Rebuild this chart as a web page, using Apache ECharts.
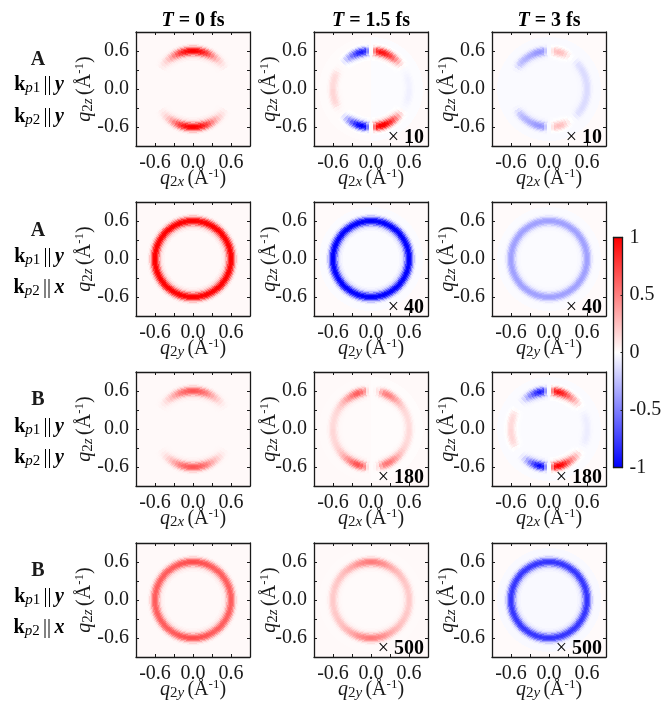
<!DOCTYPE html>
<html lang="en">
<head>
    <meta charset="UTF-8">
    <title>T-resolved maps</title>
    <script src="https://cdn.jsdelivr.net/npm/echarts@6/dist/echarts.min.js"></script>
    <style>
        html, body { margin: 0; padding: 0; background: #fff; }
        #main { width: 661px; height: 703px; filter: blur(0.45px); }
    </style>
</head>
<body>
<div id="main"></div>

<script type="text/javascript">
    // ring amplitude against angle from +q2z, 0..90 deg every 5 deg
    var angleStep = 5;
    var tickLabels = ['-0.6', '0.0', '0.6'];
    var colTitles = ['0', '1.5', '3'];
    var rowLetters = ['A', 'A', 'B', 'B'];
    var rowPump2 = ['y', 'x', 'y', 'x'];
    var rowAxes = ['x', 'y', 'x', 'y'];
    var factors = [['', '10', '10'], ['', '40', '40'], ['', '180', '180'], ['', '500', '500']];

    // radial shape of the ring
    var ringRadii = [0.46, 0.48, 0.50, 0.52, 0.54, 0.56, 0.58, 0.60, 0.62, 0.64, 0.66, 0.68, 0.70, 0.72];
    var ringProfile = [0.02, 0.05, 0.1, 0.24, 0.48, 0.75, 0.94, 1, 0.94, 0.75, 0.45, 0.2, 0.07, 0.01];

    var ayyT0 = [1, 0.98, 0.94, 0.86, 0.74, 0.62, 0.46, 0.33, 0.22, 0.14, 0.08, 0.04, 0, 0, 0, 0, 0, 0, 0];
    var ayyT15R = [0, 0.5, 0.85, 0.95, 0.92, 0.85, 0.75, 0.62, 0.46, 0.3, 0.14, 0.03, -0.01, -0.02, -0.03, -0.04, -0.04, -0.04, -0.04];
    var ayyT15L = [0, -0.5, -0.85, -0.92, -0.85, -0.72, -0.56, -0.4, -0.24, -0.1, 0, 0.01, 0.03, 0.09, 0.12, 0.13, 0.13, 0.13, 0.13];
    var ayyT3R = [0, 0.12, 0.25, 0.28, 0.25, 0.18, 0.09, 0.02, 0, -0.05, -0.1, -0.11, -0.12, -0.12, -0.12, -0.12, -0.12, -0.12, -0.12];
    var ayyT3L = [0, -0.2, -0.38, -0.4, -0.38, -0.35, -0.32, -0.3, -0.28, -0.25, -0.2, -0.1, -0.02, 0, 0, 0, 0, 0, 0];

    var axyT0 = [1, 1, 1, 1, 1, 1, 1, 1, 1, 1, 1, 1, 1, 1, 1, 1, 1, 1, 1];
    var axyT15 = [-1, -1, -1, -1, -1, -1, -1, -1, -1, -1, -1, -1, -1, -1, -1, -1, -1, -1, -1];
    var axyT3 = [-0.36, -0.36, -0.36, -0.36, -0.36, -0.36, -0.36, -0.36, -0.36, -0.36, -0.36, -0.36, -0.36, -0.36, -0.36, -0.36, -0.36, -0.36, -0.36];

    var byyT0 = [0.64, 0.63, 0.6, 0.55, 0.48, 0.4, 0.31, 0.23, 0.16, 0.1, 0.05, 0.02, 0, 0, 0, 0, 0, 0, 0];
    var byyT15R = [0, 0.02, 0.1, 0.3, 0.45, 0.5, 0.48, 0.42, 0.35, 0.28, 0.22, 0.18, 0.15, 0.14, 0.13, 0.13, 0.13, 0.13, 0.13];
    var byyT15L = [0, 0.1, 0.4, 0.55, 0.62, 0.6, 0.5, 0.42, 0.35, 0.28, 0.22, 0.18, 0.15, 0.14, 0.13, 0.13, 0.13, 0.13, 0.13];
    var byyT3R = [0, 0.5, 0.88, 0.95, 0.88, 0.78, 0.62, 0.48, 0.36, 0.24, 0.12, 0.03, 0, -0.02, -0.04, -0.05, -0.05, -0.05, -0.05];
    var byyT3L = [0, -0.4, -0.8, -0.88, -0.76, -0.62, -0.46, -0.3, -0.15, -0.05, 0, 0, 0.03, 0.1, 0.14, 0.16, 0.16, 0.16, 0.16];

    var bxyT0 = [0.68, 0.68, 0.67, 0.66, 0.65, 0.64, 0.63, 0.62, 0.62, 0.62, 0.62, 0.62, 0.62, 0.62, 0.62, 0.62, 0.62, 0.62, 0.62];
    var bxyT15 = [0.5, 0.49, 0.47, 0.44, 0.41, 0.37, 0.33, 0.3, 0.27, 0.25, 0.23, 0.22, 0.21, 0.2, 0.2, 0.19, 0.19, 0.19, 0.19];
    var bxyT3 = [-0.78, -0.78, -0.78, -0.78, -0.78, -0.78, -0.78, -0.78, -0.78, -0.78, -0.78, -0.78, -0.78, -0.78, -0.78, -0.78, -0.78, -0.78, -0.78];

    // per panel, row by row: right half, left half, gain of the lower half,
    // faint level inside the disc on the left and on the right, level outside it
    var panelRight = [ayyT0, ayyT15R, ayyT3R, axyT0, axyT15, axyT3, byyT0, byyT15R, byyT3R, bxyT0, bxyT15, bxyT3];
    var panelLeft = [ayyT0, ayyT15L, ayyT3L, axyT0, axyT15, axyT3, byyT0, byyT15L, byyT3L, bxyT0, bxyT15, bxyT3];
    var panelLowerGain = [1, 1.15, 1, 1, 1, 1, 1, 1.08, 1.1, 1, 1, 1];
    var discLeft = [0.025, 0.015, -0.02, 0.025, -0.015, -0.015, 0.025, 0.02, -0.015, 0.025, 0.02, -0.025];
    var discRight = [0.025, -0.01, -0.02, 0.025, -0.015, -0.015, 0.025, 0.01, -0.015, 0.025, 0.02, -0.025];
    var outerLevel = [0.025, 0.025, 0.02, 0.025, 0.02, 0.02, 0.025, 0.025, 0.02, 0.025, 0.025, 0.02];

    var colorbarRange = [-1, 1];
    var colorbarTicks = ['-1', '-0.5', '0', '0.5', '1'];
    var mapColors = ['#0000ff', '#ffffff', '#ff0000'];

    var gridLeft = [136, 314, 492];
    var gridTop = [32, 202, 372, 543];
    var panelSize = 114;
    var axisMin = -0.9, axisMax = 0.9;
    var cellCount = 114;
    var cellStep = (axisMax - axisMin) / cellCount;
    var discRadius = 0.82;
    var font = '"Liberation Serif", "Times New Roman", serif';
    var ink = '#1a1a1a';

    function lookup(table, i) {
        return i >= 0 && i < table.length ? table[i] : 0;
    }

    function panelValue(p, x, y) {
        var r = Math.sqrt(x * x + y * y);
        var angle = Math.atan2(Math.abs(x), Math.abs(y)) * 180 / Math.PI;
        var side = x >= 0 ? panelRight[p] : panelLeft[p];
        var amp = side[Math.round(angle / angleStep)] * (y < 0 ? panelLowerGain[p] : 1);
        var shape = lookup(ringProfile, Math.round((r - ringRadii[0]) / 0.02));
        var base = r > discRadius ? outerLevel[p] : (x >= 0 ? discRight[p] : discLeft[p]);
        return Math.max(-1, Math.min(1, base + amp * shape));
    }

    function panelCells(p) {
        var cells = [];
        for (var i = 0; i < cellCount; i++) {
            for (var j = 0; j < cellCount; j++) {
                var x = axisMin + (i + 0.5) * cellStep;
                var y = axisMin + (j + 0.5) * cellStep;
                cells.push([x, y, panelValue(p, x, y)]);
            }
        }
        return cells;
    }

    function renderCell(params, api) {
        var c = api.coord([api.value(0), api.value(1)]);
        var s = api.size([cellStep, cellStep]);
        return {
            type: 'rect',
            shape: {x: c[0] - s[0] / 2, y: c[1] - s[1] / 2, width: s[0], height: s[1]},
            style: {fill: api.visual('color')}
        };
    }

    var axisNameRich = {
        q: {fontFamily: font, fontStyle: 'italic', fontSize: 20, color: ink, height: 22},
        s: {fontFamily: font, fontSize: 15, color: ink, verticalAlign: 'bottom', padding: [8, 0, 0, 0]},
        si: {fontFamily: font, fontStyle: 'italic', fontSize: 15, color: ink, verticalAlign: 'bottom', padding: [8, 0, 0, 0]},
        n: {fontFamily: font, fontSize: 20, color: ink},
        u: {fontFamily: font, fontSize: 13, color: ink, verticalAlign: 'top', padding: [0, 0, 6, 0]}
    };

    function panelAxis(g, position, name) {
        var main = position === 'bottom' || position === 'left';
        var axis = {
            type: 'value',
            gridIndex: g,
            position: position,
            min: axisMin,
            max: axisMax,
            interval: 0.3,
            z: 5,
            axisLine: {show: true, onZero: false, lineStyle: {color: ink, width: 1.3}},
            axisTick: {show: true, inside: true, length: 3, lineStyle: {color: ink, width: 1}},
            splitLine: {show: false},
            axisLabel: {show: false}
        };
        if (main) {
            axis.axisLabel = {
                show: true,
                margin: 7,
                fontFamily: font,
                fontSize: 20,
                color: ink,
                formatter: function (v) {
                    var t = v.toFixed(1);
                    if (t === '-0.0') t = '0.0';
                    return tickLabels.indexOf(t) >= 0 ? t : '';
                }
            };
            axis.name = name;
            axis.nameLocation = 'middle';
            axis.nameMoveOverlap = false;
            axis.nameTextStyle = {rich: axisNameRich};
            axis.nameGap = position === 'bottom' ? 21 : 33;
            if (position === 'left') axis.nameRotate = 90;
        }
        return axis;
    }

    var grids = [], xAxes = [], yAxes = [], series = [], graphics = [];

    for (var row = 0; row < 4; row++) {
        for (var col = 0; col < 3; col++) {
            var g = grids.length;
            grids.push({left: gridLeft[col], top: gridTop[row], width: panelSize, height: panelSize, outerBoundsMode: 'none'});
            // axes 2g / 2g+1 in each list: the labelled one, then the mirror with ticks only
            xAxes.push(panelAxis(g, 'bottom', '{q|q}{s|2}{si|' + rowAxes[row] + '} {n|(Å}{u|-1}{n|)}'));
            xAxes.push(panelAxis(g, 'top'));
            var yAxis = panelAxis(g, 'left', '{q|q}{s|2}{si|z} {n|(Å}{u|-1}{n|)}');
            if (col === 0) yAxis.nameGap = 40;
            yAxes.push(yAxis);
            yAxes.push(panelAxis(g, 'right'));
            series.push({
                type: 'custom',
                xAxisIndex: 2 * g,
                yAxisIndex: 2 * g,
                coordinateSystem: 'cartesian2d',
                data: panelCells(g),
                encode: {x: 0, y: 1},
                renderItem: renderCell,
                clip: true,
                z: 1,
                silent: true,
                progressive: 0,
                animation: false
            });
            if (factors[row][col]) {
                graphics.push({
                    type: 'text',
                    x: gridLeft[col] + panelSize - 4,
                    y: gridTop[row] + panelSize - 8,
                    z: 10,
                    style: {
                        text: '{x|× }{b|' + factors[row][col] + '}',
                        textAlign: 'right',
                        textVerticalAlign: 'middle',
                        rich: {
                            x: {fontFamily: font, fontSize: 20, color: ink},
                            b: {fontFamily: font, fontSize: 20, fontWeight: 'bold', color: '#000'}
                        }
                    }
                });
            }
        }
    }

    // row labels
    var labelRich = {
        k: {fontFamily: font, fontSize: 20, fontWeight: 'bold', color: ink},
        p: {fontFamily: font, fontSize: 15, fontStyle: 'italic', color: ink, verticalAlign: 'bottom', padding: [7, 0, 0, 0]},
        d: {fontFamily: font, fontSize: 15, color: ink, verticalAlign: 'bottom', padding: [7, 0, 0, 0]},
        b: {fontFamily: font, fontSize: 20, color: '#555'},
        y: {fontFamily: font, fontSize: 20, fontWeight: 'bold', fontStyle: 'italic', color: ink}
    };
    var labelY = [[60, 85, 117], [231, 257, 288], [400, 427, 458], [571, 597, 628]];
    for (var r = 0; r < 4; r++) {
        graphics.push({type: 'text', x: 38, y: labelY[r][0], style: {
            text: rowLetters[r], textAlign: 'center', textVerticalAlign: 'middle',
            font: 'bold 20px ' + font, fill: ink
        }});
        graphics.push({type: 'text', x: 39, y: labelY[r][1], style: {
            text: '{k|k}{p|p}{d|1} {b|||} {y|y}', rich: labelRich,
            textAlign: 'center', textVerticalAlign: 'middle'
        }});
        graphics.push({type: 'text', x: 39, y: labelY[r][2], style: {
            text: '{k|k}{p|p}{d|2} {b|||} {y|' + rowPump2[r] + '}', rich: labelRich,
            textAlign: 'center', textVerticalAlign: 'middle'
        }});
    }

    // column titles
    for (var c = 0; c < 3; c++) {
        graphics.push({type: 'text', x: gridLeft[c] + panelSize / 2, y: 21, style: {
            text: '{t|T}{r| = ' + colTitles[c] + ' fs}',
            textAlign: 'center', textVerticalAlign: 'middle',
            rich: {
                t: {fontFamily: font, fontSize: 20, fontWeight: 'bold', fontStyle: 'italic', color: '#000'},
                r: {fontFamily: font, fontSize: 20, fontWeight: 'bold', color: '#000'}
            }
        }});
    }

    // colour bar
    var barGrid = grids.length;
    grids.push({left: 613.5, top: 237.5, width: 9, height: 230, outerBoundsMode: 'none'});
    xAxes.push({
        type: 'value', gridIndex: barGrid, min: 0, max: 1, position: 'top',
        axisLine: {show: true, onZero: false, lineStyle: {color: ink, width: 1.3}},
        axisTick: {show: false}, axisLabel: {show: false}, splitLine: {show: false}, z: 5
    });
    xAxes.push({
        type: 'value', gridIndex: barGrid, min: 0, max: 1, position: 'bottom',
        axisLine: {show: true, onZero: false, lineStyle: {color: ink, width: 1.3}},
        axisTick: {show: false}, axisLabel: {show: false}, splitLine: {show: false}, z: 5
    });
    yAxes.push({
        type: 'value', gridIndex: barGrid, min: colorbarRange[0], max: colorbarRange[1], interval: 0.5, position: 'right',
        axisLine: {show: true, onZero: false, lineStyle: {color: ink, width: 1.3}},
        axisTick: {show: true, inside: true, length: 2, lineStyle: {color: ink, width: 1}},
        splitLine: {show: false}, z: 5,
        axisLabel: {
            show: true, margin: 7, fontFamily: font, fontSize: 20, color: ink, padding: [3, 0, 0, 0],
            formatter: function (v) { return colorbarTicks[Math.round((v + 1) * 2)]; }
        }
    });
    yAxes.push({
        type: 'value', gridIndex: barGrid, min: colorbarRange[0], max: colorbarRange[1], position: 'left',
        axisLine: {show: true, onZero: false, lineStyle: {color: ink, width: 1.3}},
        axisTick: {show: false}, axisLabel: {show: false}, splitLine: {show: false}, z: 5
    });
    var panelSeries = series.map(function (s, i) { return i; });
    series.push({
        type: 'custom',
        xAxisIndex: 2 * barGrid,
        yAxisIndex: 2 * barGrid,
        coordinateSystem: 'cartesian2d',
        data: [[colorbarRange[0], colorbarRange[1]]],
        silent: true,
        z: 1,
        animation: false,
        renderItem: function (params, api) {
            var lo = api.coord([0, api.value(0)]);
            var hi = api.coord([1, api.value(1)]);
            return {
                type: 'rect',
                shape: {x: lo[0], y: hi[1], width: hi[0] - lo[0], height: lo[1] - hi[1]},
                style: {
                    fill: new echarts.graphic.LinearGradient(0, 1, 0, 0, [
                        {offset: 0, color: mapColors[0]},
                        {offset: 0.5, color: mapColors[1]},
                        {offset: 1, color: mapColors[2]}
                    ])
                }
            };
        }
    });

    var myChart = echarts.init(document.getElementById('main'), null, {renderer: 'canvas'});
    myChart.setOption({
        animation: false,
        backgroundColor: '#fff',
        grid: grids,
        xAxis: xAxes,
        yAxis: yAxes,
        visualMap: {
            show: false,
            type: 'continuous',
            seriesIndex: panelSeries,
            dimension: 2,
            min: -1,
            max: 1,
            inRange: {color: mapColors}
        },
        series: series,
        graphic: graphics
    });
</script>

</body>
</html>
